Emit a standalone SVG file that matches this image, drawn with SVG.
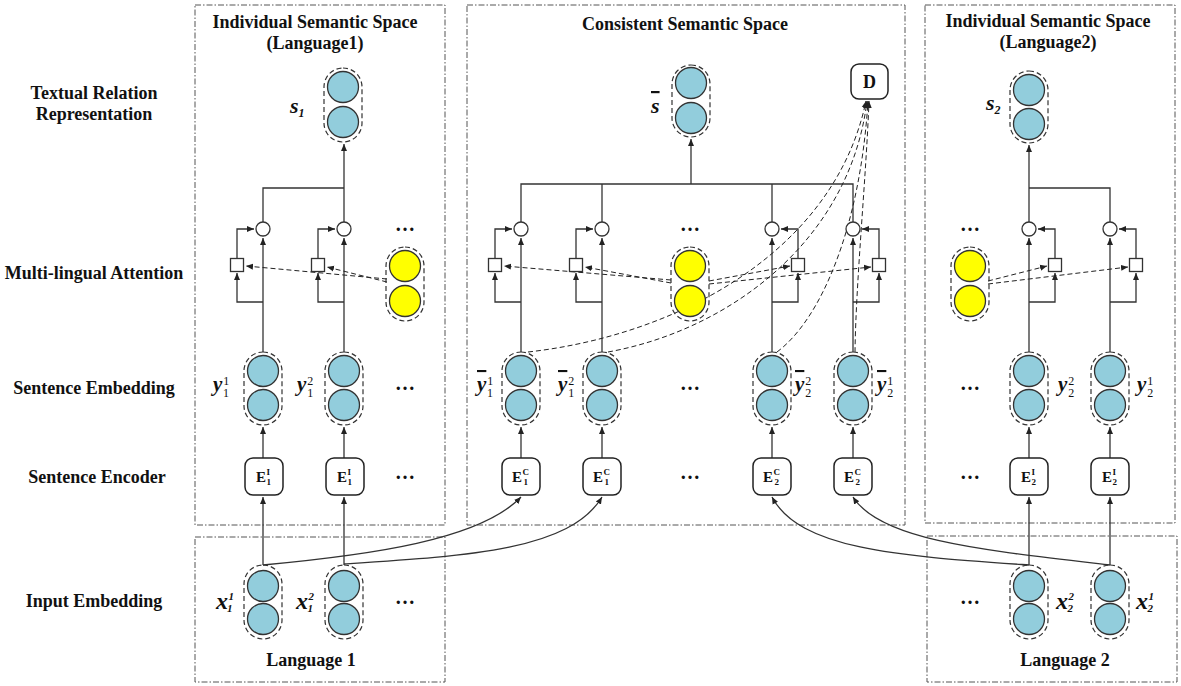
<svg xmlns="http://www.w3.org/2000/svg" width="1181" height="686" viewBox="0 0 1181 686">
<style>
.frame{fill:none;stroke:#555;stroke-width:1;stroke-dasharray:6 2 1.5 2}
.cap{fill:none;stroke:#333;stroke-width:1.2;stroke-dasharray:5 3}
.bc{fill:#92CDDC;stroke:#333;stroke-width:1.3}
.yc{fill:#FFFF00;stroke:#333;stroke-width:1.3}
.ln{fill:none;stroke:#333;stroke-width:1.3}
.arr{marker-end:url(#ah)}
.dl{fill:none;stroke:#222;stroke-width:1;stroke-dasharray:5 3}
.sq{fill:#fff;stroke:#333;stroke-width:1.3}
.box{fill:#fff;stroke:#222;stroke-width:1.5}
.lbl{font-family:"Liberation Serif",serif;font-weight:bold;font-size:18px;fill:#111;text-anchor:middle}
.m{font-family:"Liberation Serif",serif;font-weight:bold;font-style:italic;fill:#111}
.sc{font-size:12px;font-weight:normal;font-style:normal}
.si{font-size:11px}
.es{font-size:9px}
.E{font-family:"Liberation Serif",serif;font-weight:bold;font-size:15px;fill:#111}
.dots{font-family:"Liberation Serif",serif;font-weight:bold;font-size:20px;fill:#111;text-anchor:middle}
.ol{text-decoration:overline}
</style>
<defs>
<marker id="ah" markerWidth="8" markerHeight="8" refX="7" refY="4" orient="auto" markerUnits="userSpaceOnUse"><path d="M0,1 L7,4 L0,7 z" fill="#222"/></marker>
</defs>
<rect width="1181" height="686" fill="#fff"/>

<g id="frames">
<rect class="frame" x="195" y="5" width="250" height="520"/>
<rect class="frame" x="467" y="5" width="438" height="520"/>
<rect class="frame" x="925" y="5" width="250" height="518"/>
<rect class="frame" x="195" y="537" width="250" height="145"/>
<rect class="frame" x="927" y="536" width="250" height="146"/>
</g>

<g id="labels">
<text class="lbl" x="94" y="99">Textual Relation</text>
<text class="lbl" x="94" y="120">Representation</text>
<text class="lbl" x="94" y="279">Multi-lingual Attention</text>
<text class="lbl" x="94" y="394">Sentence Embedding</text>
<text class="lbl" x="97" y="483">Sentence Encoder</text>
<text class="lbl" x="94" y="607">Input Embedding</text>
<text class="lbl" x="315" y="28">Individual Semantic Space</text>
<text class="lbl" x="315" y="49">(Language1)</text>
<text class="lbl" x="685" y="30">Consistent Semantic Space</text>
<text class="lbl" x="1048" y="27">Individual Semantic Space</text>
<text class="lbl" x="1048" y="48">(Language2)</text>
<text class="lbl" x="311" y="666">Language 1</text>
<text class="lbl" x="1065" y="666">Language 2</text>
</g>

<g id="connectors">
<path class="ln arr" d="M263,565 V497"/>
<path class="ln arr" d="M344,565 V497"/>
<path class="ln arr" d="M263,458 V427"/>
<path class="ln arr" d="M344,458 V427"/>
<path class="ln arr" d="M263,352 V238"/>
<path class="ln arr" d="M344,352 V238"/>
<path class="ln arr" d="M263,302 H237 V273"/>
<path class="ln arr" d="M344,302 H318 V273"/>
<path class="ln arr" d="M237,258 V229 H254"/>
<path class="ln arr" d="M318,258 V229 H335"/>
<path class="ln" d="M263,222 V188 H344"/>
<path class="ln arr" d="M344,222 V144"/>
<path class="dl arr" d="M387,279 L246,266"/>
<path class="dl arr" d="M387,282 L327,267"/>
<path class="ln arr" d="M521,458 V427"/>
<path class="ln arr" d="M602,458 V427"/>
<path class="ln arr" d="M772,458 V427"/>
<path class="ln arr" d="M853,458 V427"/>
<path class="ln arr" d="M521,352 V238"/>
<path class="ln arr" d="M602,352 V238"/>
<path class="ln arr" d="M772,352 V238"/>
<path class="ln arr" d="M853,352 V238"/>
<path class="ln arr" d="M521,302 H495 V273"/>
<path class="ln arr" d="M602,302 H576 V273"/>
<path class="ln arr" d="M772,302 H798 V273"/>
<path class="ln arr" d="M853,302 H879 V273"/>
<path class="ln arr" d="M495,258 V229 H512"/>
<path class="ln arr" d="M576,258 V229 H593"/>
<path class="ln arr" d="M798,258 V229 H781"/>
<path class="ln arr" d="M879,258 V229 H862"/>
<path class="ln" d="M521,222 V184 H853 V222"/>
<path class="ln" d="M602,222 V184"/>
<path class="ln" d="M772,222 V184"/>
<path class="ln arr" d="M691,184 V139"/>
<path class="dl arr" d="M671,280 L504,266"/>
<path class="dl arr" d="M671,283 L585,267"/>
<path class="dl arr" d="M709,281 L790,266"/>
<path class="dl arr" d="M709,284 L871,267"/>
<path class="dl arr" d="M528,352 C 680,335 835,250 866,101"/>
<path class="dl arr" d="M608,352 C 730,330 850,240 867,101"/>
<path class="dl arr" d="M777,352 C 820,320 860,230 868,101"/>
<path class="dl arr" d="M855,352 C 856,280 866,180 869,101"/>
<path class="ln arr" d="M1029,565 V497"/>
<path class="ln arr" d="M1110,565 V497"/>
<path class="ln arr" d="M1029,458 V427"/>
<path class="ln arr" d="M1110,458 V427"/>
<path class="ln arr" d="M1029,352 V238"/>
<path class="ln arr" d="M1110,352 V238"/>
<path class="ln arr" d="M1029,302 H1055 V273"/>
<path class="ln arr" d="M1110,302 H1136 V273"/>
<path class="ln arr" d="M1055,258 V229 H1038"/>
<path class="ln arr" d="M1136,258 V229 H1119"/>
<path class="ln" d="M1110,222 V188 H1029"/>
<path class="ln arr" d="M1029,222 V145"/>
<path class="dl arr" d="M988,281 L1047,266"/>
<path class="dl arr" d="M988,284 L1128,267"/>
<path class="ln arr" d="M263,565 C 370,555 480,540 521,497"/>
<path class="ln arr" d="M344,564 C 470,556 570,550 602,497"/>
<path class="ln arr" d="M1029,565 C 900,556 800,550 772,497"/>
<path class="ln arr" d="M1110,565 C 980,550 880,540 853,497"/>
</g>

<g id="s1">
<rect class="cap" x="324" y="68" width="38" height="74" rx="19"/>
<circle class="bc" cx="343" cy="87" r="15.5"/>
<circle class="bc" cx="343" cy="122" r="15.5"/>
<text class="m" x="290" y="113" font-size="22">s<tspan font-size="12" dy="4">1</tspan></text>
</g>
<g id="sbar">
<rect class="cap" x="672" y="65" width="38" height="72" rx="19"/>
<circle class="bc" cx="691" cy="83" r="15.5"/>
<circle class="bc" cx="691" cy="118" r="15.5"/>
<text class="m ol" x="651" y="113" font-size="22">s</text>
</g>
<g id="s2">
<rect class="cap" x="1010" y="71" width="38" height="72" rx="19"/>
<circle class="bc" cx="1029" cy="90" r="15.5"/>
<circle class="bc" cx="1029" cy="124" r="15.5"/>
<text class="m" x="986" y="110" font-size="22">s<tspan font-size="12" dy="4">2</tspan></text>
</g>
<g id="D">
<rect class="box" x="851" y="64" width="37" height="35" rx="8"/>
<text class="lbl" x="869.5" y="88">D</text>
</g>

<g id="gates">
<circle class="sq" cx="263" cy="229" r="7"/><rect class="sq" x="230.5" y="258.5" width="13" height="13"/>
<circle class="sq" cx="344" cy="229" r="7"/><rect class="sq" x="311.5" y="258.5" width="13" height="13"/>
<circle class="sq" cx="521" cy="229" r="7"/><rect class="sq" x="488.5" y="258.5" width="13" height="13"/>
<circle class="sq" cx="602" cy="229" r="7"/><rect class="sq" x="569.5" y="258.5" width="13" height="13"/>
<circle class="sq" cx="772" cy="229" r="7"/><rect class="sq" x="791.5" y="258.5" width="13" height="13"/>
<circle class="sq" cx="853" cy="229" r="7"/><rect class="sq" x="872.5" y="258.5" width="13" height="13"/>
<circle class="sq" cx="1029" cy="229" r="7"/><rect class="sq" x="1048.5" y="258.5" width="13" height="13"/>
<circle class="sq" cx="1110" cy="229" r="7"/><rect class="sq" x="1129.5" y="258.5" width="13" height="13"/>
</g>

<g id="q-left">
<text class="dots" x="405" y="231">…</text>
<rect class="cap" x="386" y="247" width="38" height="74" rx="19"/>
<circle class="yc" cx="405" cy="266" r="15.5"/>
<circle class="yc" cx="405" cy="301" r="15.5"/>
</g>
<g id="q-mid">
<text class="dots" x="690" y="231">…</text>
<rect class="cap" x="671" y="247" width="38" height="74" rx="19"/>
<circle class="yc" cx="690" cy="266" r="15.5"/>
<circle class="yc" cx="690" cy="301" r="15.5"/>
</g>
<g id="q-right">
<text class="dots" x="970" y="231">…</text>
<rect class="cap" x="951" y="247" width="38" height="74" rx="19"/>
<circle class="yc" cx="970" cy="266" r="15.5"/>
<circle class="yc" cx="970" cy="301" r="15.5"/>
</g>

<g id="y11">
<rect class="cap" x="244" y="352" width="38" height="73" rx="19"/>
<circle class="bc" cx="263" cy="371" r="15.5"/><circle class="bc" cx="263" cy="405" r="15.5"/>
<text class="m" x="213" y="391" font-size="21">y<tspan class="sc" dx="1" dy="-6">1</tspan><tspan class="sc" dx="-6" dy="12">1</tspan></text>
</g>
<g id="y12">
<rect class="cap" x="325" y="352" width="38" height="73" rx="19"/>
<circle class="bc" cx="344" cy="371" r="15.5"/><circle class="bc" cx="344" cy="405" r="15.5"/>
<text class="m" x="297" y="391" font-size="21">y<tspan class="sc" dx="1" dy="-6">2</tspan><tspan class="sc" dx="-6" dy="12">1</tspan></text>
</g>
<text class="dots" x="405" y="390">…</text>
<g id="yb11">
<rect class="cap" x="502" y="352" width="38" height="73" rx="19"/>
<circle class="bc" cx="521" cy="371" r="15.5"/><circle class="bc" cx="521" cy="405" r="15.5"/>
<text class="m" x="477" y="391" font-size="21"><tspan class="ol">y</tspan><tspan class="sc" dx="1" dy="-6">1</tspan><tspan class="sc" dx="-6" dy="12">1</tspan></text>
</g>
<g id="yb12">
<rect class="cap" x="583" y="352" width="38" height="73" rx="19"/>
<circle class="bc" cx="602" cy="371" r="15.5"/><circle class="bc" cx="602" cy="405" r="15.5"/>
<text class="m" x="558" y="391" font-size="21"><tspan class="ol">y</tspan><tspan class="sc" dx="1" dy="-6">2</tspan><tspan class="sc" dx="-6" dy="12">1</tspan></text>
</g>
<text class="dots" x="690" y="390">…</text>
<g id="yb22">
<rect class="cap" x="753" y="352" width="38" height="73" rx="19"/>
<circle class="bc" cx="772" cy="371" r="15.5"/><circle class="bc" cx="772" cy="405" r="15.5"/>
<text class="m" x="795" y="391" font-size="21"><tspan class="ol">y</tspan><tspan class="sc" dx="1" dy="-6">2</tspan><tspan class="sc" dx="-6" dy="12">2</tspan></text>
</g>
<g id="yb21">
<rect class="cap" x="834" y="352" width="38" height="73" rx="19"/>
<circle class="bc" cx="853" cy="371" r="15.5"/><circle class="bc" cx="853" cy="405" r="15.5"/>
<text class="m" x="877" y="391" font-size="21"><tspan class="ol">y</tspan><tspan class="sc" dx="1" dy="-6">1</tspan><tspan class="sc" dx="-6" dy="12">2</tspan></text>
</g>
<text class="dots" x="970" y="390">…</text>
<g id="y22">
<rect class="cap" x="1010" y="352" width="38" height="73" rx="19"/>
<circle class="bc" cx="1029" cy="371" r="15.5"/><circle class="bc" cx="1029" cy="405" r="15.5"/>
<text class="m" x="1058" y="391" font-size="21">y<tspan class="sc" dx="1" dy="-6">2</tspan><tspan class="sc" dx="-6" dy="12">2</tspan></text>
</g>
<g id="y21">
<rect class="cap" x="1091" y="352" width="38" height="73" rx="19"/>
<circle class="bc" cx="1110" cy="371" r="15.5"/><circle class="bc" cx="1110" cy="405" r="15.5"/>
<text class="m" x="1137" y="391" font-size="21">y<tspan class="sc" dx="1" dy="-6">1</tspan><tspan class="sc" dx="-6" dy="12">2</tspan></text>
</g>

<g id="enc-l1"><rect class="box" x="245" y="458" width="38" height="37" rx="8"/><text class="E" x="256" y="482">E<tspan class="es" dx="0.5" dy="-7">I</tspan><tspan class="es" dx="-3.5" dy="10">1</tspan></text></g>
<g id="enc-l2"><rect class="box" x="326" y="458" width="38" height="37" rx="8"/><text class="E" x="337" y="482">E<tspan class="es" dx="0.5" dy="-7">I</tspan><tspan class="es" dx="-3.5" dy="10">1</tspan></text></g>
<text class="dots" x="405" y="479">…</text>
<g id="enc-c1"><rect class="box" x="502" y="458" width="38" height="37" rx="8"/><text class="E" x="512" y="482">E<tspan class="es" dx="0.5" dy="-7">C</tspan><tspan class="es" dx="-5.5" dy="10">1</tspan></text></g>
<g id="enc-c2"><rect class="box" x="583" y="458" width="38" height="37" rx="8"/><text class="E" x="593" y="482">E<tspan class="es" dx="0.5" dy="-7">C</tspan><tspan class="es" dx="-5.5" dy="10">1</tspan></text></g>
<text class="dots" x="690" y="479">…</text>
<g id="enc-c3"><rect class="box" x="753" y="458" width="38" height="37" rx="8"/><text class="E" x="763" y="482">E<tspan class="es" dx="0.5" dy="-7">C</tspan><tspan class="es" dx="-5.5" dy="10">2</tspan></text></g>
<g id="enc-c4"><rect class="box" x="834" y="458" width="38" height="37" rx="8"/><text class="E" x="844" y="482">E<tspan class="es" dx="0.5" dy="-7">C</tspan><tspan class="es" dx="-5.5" dy="10">2</tspan></text></g>
<text class="dots" x="970" y="479">…</text>
<g id="enc-r1"><rect class="box" x="1010" y="458" width="38" height="37" rx="8"/><text class="E" x="1021" y="482">E<tspan class="es" dx="0.5" dy="-7">I</tspan><tspan class="es" dx="-3.5" dy="10">2</tspan></text></g>
<g id="enc-r2"><rect class="box" x="1091" y="458" width="38" height="37" rx="8"/><text class="E" x="1102" y="482">E<tspan class="es" dx="0.5" dy="-7">I</tspan><tspan class="es" dx="-3.5" dy="10">2</tspan></text></g>

<g id="x11">
<rect class="cap" x="244" y="565" width="38" height="74" rx="19"/>
<circle class="bc" cx="263" cy="586" r="15.5"/><circle class="bc" cx="263" cy="619" r="15.5"/>
<text class="m" x="216" y="609" font-size="24">x<tspan class="si" dx="0.5" dy="-9">1</tspan><tspan class="si" dx="-6.5" dy="12">1</tspan></text>
</g>
<g id="x12">
<rect class="cap" x="325" y="565" width="38" height="74" rx="19"/>
<circle class="bc" cx="344" cy="586" r="15.5"/><circle class="bc" cx="344" cy="619" r="15.5"/>
<text class="m" x="296" y="609" font-size="24">x<tspan class="si" dx="0.5" dy="-9">2</tspan><tspan class="si" dx="-6.5" dy="12">1</tspan></text>
</g>
<text class="dots" x="405" y="604">…</text>
<text class="dots" x="970" y="604">…</text>
<g id="x22">
<rect class="cap" x="1010" y="565" width="38" height="74" rx="19"/>
<circle class="bc" cx="1029" cy="586" r="15.5"/><circle class="bc" cx="1029" cy="619" r="15.5"/>
<text class="m" x="1056" y="609" font-size="24">x<tspan class="si" dx="0.5" dy="-9">2</tspan><tspan class="si" dx="-6.5" dy="12">2</tspan></text>
</g>
<g id="x21">
<rect class="cap" x="1091" y="565" width="38" height="74" rx="19"/>
<circle class="bc" cx="1110" cy="586" r="15.5"/><circle class="bc" cx="1110" cy="619" r="15.5"/>
<text class="m" x="1136" y="609" font-size="24">x<tspan class="si" dx="0.5" dy="-9">1</tspan><tspan class="si" dx="-6.5" dy="12">2</tspan></text>
</g>
</svg>
